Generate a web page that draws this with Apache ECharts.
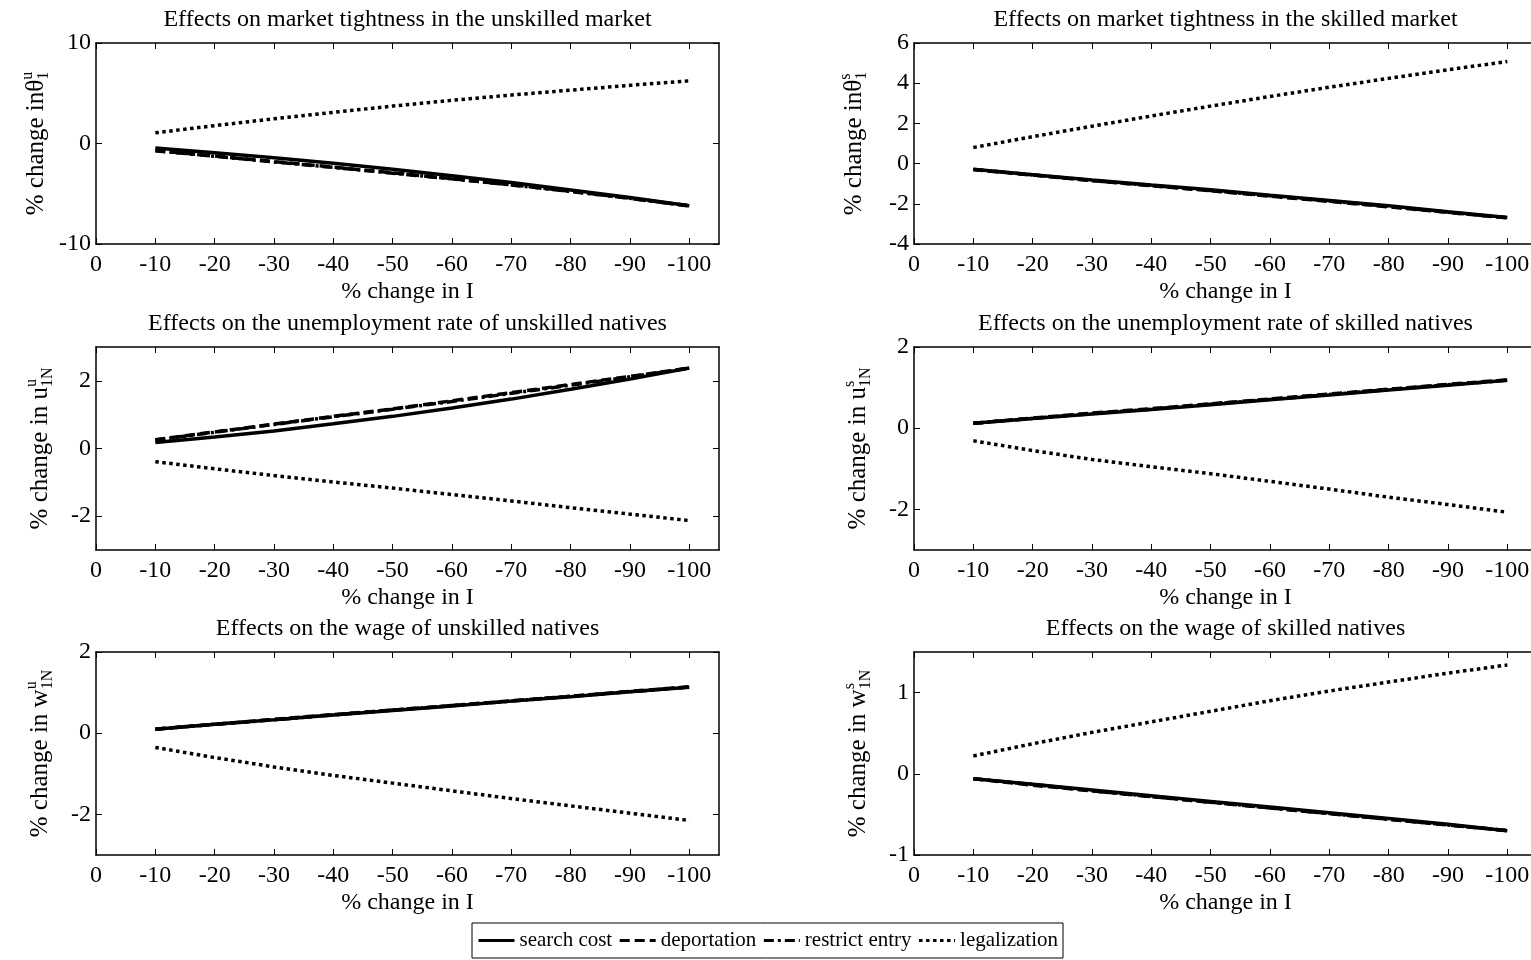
<!DOCTYPE html>
<html><head><meta charset="utf-8">
<script src="https://cdn.jsdelivr.net/npm/echarts@6/dist/echarts.min.js"></script>
<style>html,body{margin:0;padding:0;background:#fff}#c{width:1531px;height:960px}</style>
</head><body><div id="c"></div>
<script>
// ---------- data ----------
const xValues = [-10, -20, -30, -40, -50, -60, -70, -80, -90, -100];
const seriesNames = ['search cost', 'deportation', 'restrict entry', 'legalization'];
const xTickValues = [0, -10, -20, -30, -40, -50, -60, -70, -80, -90, -100];

// Panel 1: market tightness, unskilled
const p1SearchCost = [-0.45, -0.92, -1.42, -1.96, -2.56, -3.20, -3.88, -4.62, -5.38, -6.2];
const p1Deportation = [-0.70, -1.25, -1.80, -2.35, -2.92, -3.50, -4.10, -4.75, -5.45, -6.2];
const p1Restrict = [-0.72, -1.27, -1.83, -2.38, -2.95, -3.52, -4.12, -4.77, -5.46, -6.22];
const p1Legal = [1.06, 1.78, 2.46, 3.10, 3.72, 4.30, 4.82, 5.31, 5.79, 6.24];
// Panel 2: market tightness, skilled
const p2SearchCost = [-0.28, -0.55, -0.82, -1.07, -1.30, -1.57, -1.83, -2.10, -2.40, -2.68];
const p2Deportation = [-0.30, -0.57, -0.85, -1.10, -1.35, -1.62, -1.88, -2.15, -2.43, -2.70];
const p2Restrict = [-0.29, -0.56, -0.84, -1.09, -1.34, -1.60, -1.86, -2.13, -2.42, -2.69];
const p2Legal = [0.80, 1.34, 1.86, 2.37, 2.86, 3.34, 3.80, 4.24, 4.67, 5.08];
// Panel 3: unemployment rate, unskilled natives
const p3SearchCost = [0.18, 0.34, 0.52, 0.73, 0.95, 1.20, 1.46, 1.75, 2.05, 2.38];
const p3Deportation = [0.26, 0.49, 0.72, 0.95, 1.17, 1.41, 1.65, 1.89, 2.13, 2.38];
const p3Restrict = [0.25, 0.48, 0.71, 0.94, 1.16, 1.39, 1.63, 1.87, 2.12, 2.37];
const p3Legal = [-0.39, -0.60, -0.80, -0.99, -1.17, -1.36, -1.55, -1.75, -1.94, -2.13];
// Panel 4: unemployment rate, skilled natives
const p4SearchCost = [0.12, 0.24, 0.35, 0.46, 0.58, 0.70, 0.82, 0.94, 1.06, 1.18];
const p4Deportation = [0.12, 0.25, 0.37, 0.48, 0.60, 0.72, 0.84, 0.96, 1.08, 1.19];
const p4Restrict = [0.12, 0.24, 0.36, 0.47, 0.59, 0.71, 0.83, 0.95, 1.07, 1.18];
const p4Legal = [-0.31, -0.55, -0.77, -0.95, -1.12, -1.31, -1.50, -1.70, -1.88, -2.07];
// Panel 5: wage, unskilled natives
const p5SearchCost = [0.10, 0.22, 0.33, 0.45, 0.56, 0.67, 0.79, 0.90, 1.02, 1.13];
const p5Deportation = [0.10, 0.22, 0.34, 0.46, 0.57, 0.68, 0.80, 0.91, 1.03, 1.14];
const p5Restrict = [0.10, 0.22, 0.33, 0.45, 0.57, 0.68, 0.79, 0.91, 1.02, 1.14];
const p5Legal = [-0.35, -0.60, -0.83, -1.04, -1.23, -1.42, -1.61, -1.79, -1.97, -2.15];
// Panel 6: wage, skilled natives
const p6SearchCost = [-0.06, -0.13, -0.20, -0.27, -0.34, -0.41, -0.48, -0.55, -0.62, -0.70];
const p6Deportation = [-0.06, -0.14, -0.21, -0.28, -0.35, -0.42, -0.49, -0.56, -0.63, -0.70];
const p6Restrict = [-0.06, -0.13, -0.21, -0.28, -0.35, -0.42, -0.49, -0.56, -0.63, -0.70];
const p6Legal = [0.22, 0.37, 0.51, 0.64, 0.77, 0.90, 1.02, 1.13, 1.24, 1.34];

const titles = [
  'Effects on market tightness in the unskilled market',
  'Effects on market tightness in the skilled market',
  'Effects on the unemployment rate of unskilled natives',
  'Effects on the unemployment rate of skilled natives',
  'Effects on the wage of unskilled natives',
  'Effects on the wage of skilled natives'
];
const yNames = [
  '{t|% change in}{t|θ}{sup|u}{sub|1}',
  '{t|% change in}{t|θ}{sup|s}{sub|1}',
  '{t|% change in u}{sup|u}{sub|1N}',
  '{t|% change in u}{sup|s}{sub|1N}',
  '{t|% change in w}{sup|u}{sub|1N}',
  '{t|% change in w}{sup|s}{sub|1N}'
];
const xName = '% change in I';
// y axis ranges [min, max] and tick values
const yRanges = [[-10, 10], [-4, 6], [-3, 3], [-3, 2], [-3, 2], [-1, 1.5]];
const yTickValues = [[-10, 0, 10], [-4, -2, 0, 2, 4, 6], [-2, 0, 2], [-2, 0, 2], [-2, 0, 2], [-1, 0, 1]];
const panelData = [
  [p1SearchCost, p1Deportation, p1Restrict, p1Legal],
  [p2SearchCost, p2Deportation, p2Restrict, p2Legal],
  [p3SearchCost, p3Deportation, p3Restrict, p3Legal],
  [p4SearchCost, p4Deportation, p4Restrict, p4Legal],
  [p5SearchCost, p5Deportation, p5Restrict, p5Legal],
  [p6SearchCost, p6Deportation, p6Restrict, p6Legal]
];

// ---------- layout / style ----------
const FONT = "'Liberation Serif', 'Times New Roman', serif";
const GRID_W = 623;
const lefts = [96, 914];
const tops = [43, 347, 652];
const heights = [201, 203, 203];
const nameGaps = [44, 44, 40, 40, 40, 40];
const lineTypes = ['solid', [10, 5], [10, 4, 3, 4], [3.5, 3.5]];
const LW = 3.5;

const chart = echarts.init(document.getElementById('c'));

const grids = [], xAxes = [], yAxes = [], series = [], graphics = [];

for (let i = 0; i < 6; i++) {
  const col = i % 2, row = Math.floor(i / 2);
  const left = lefts[col], top = tops[row], height = heights[row];
  grids.push({ left, top, width: GRID_W, height, containLabel: false, outerBoundsMode: 'none', show: false });

  const axisLine = { show: true, onZero: false, lineStyle: { color: '#000', width: 1.5 } };
  const xTick = { show: true, inside: true, length: 6, customValues: xTickValues, lineStyle: { color: '#000', width: 1 } };
  const baseX = {
    type: 'value', gridIndex: i, inverse: true, min: -105, max: 0,
    axisLine, axisTick: xTick, splitLine: { show: false }
  };
  xAxes.push(Object.assign({}, baseX, {
    position: 'bottom',
    axisLabel: {
      show: true, color: '#000', fontFamily: FONT, fontSize: 24, margin: 9,
      customValues: xTickValues, hideOverlap: false,
      formatter: v => String(v)
    },
    name: xName, nameLocation: 'middle', nameGap: 36,
    nameTextStyle: { color: '#000', fontFamily: FONT, fontSize: 24 }
  }));
  xAxes.push(Object.assign({}, baseX, { position: 'top', axisLabel: { show: false } }));

  const [ymin, ymax] = yRanges[i];
  const yTick = { show: true, inside: true, length: 6, customValues: yTickValues[i], lineStyle: { color: '#000', width: 1 } };
  const baseY = {
    type: 'value', gridIndex: i, min: ymin, max: ymax,
    axisLine, axisTick: yTick, splitLine: { show: false }
  };
  yAxes.push(Object.assign({}, baseY, {
    position: 'left',
    axisLabel: {
      show: true, color: '#000', fontFamily: FONT, fontSize: 24, margin: 5,
      customValues: yTickValues[i], hideOverlap: false,
      formatter: v => String(v)
    },
    name: yNames[i], nameLocation: 'middle', nameRotate: 90, nameGap: nameGaps[i],
    nameTextStyle: {
      color: '#000',
      rich: {
        t: { fontFamily: FONT, fontSize: 25, lineHeight: 32, align: 'left', color: '#000' },
        sup: { fontFamily: FONT, fontSize: 16, lineHeight: 16, verticalAlign: 'top', align: 'left', width: 0, color: '#000' },
        sub: { fontFamily: FONT, fontSize: 16, lineHeight: 16, verticalAlign: 'bottom', align: 'left', color: '#000' }
      }
    }
  }));
  yAxes.push(Object.assign({}, baseY, { position: 'right', axisLabel: { show: false } }));

  panelData[i].forEach((arr, k) => {
    series.push({
      name: seriesNames[k], type: 'line',
      xAxisIndex: 2 * i, yAxisIndex: 2 * i,
      data: xValues.map((x, j) => [x, arr[j]]),
      symbol: 'none', showSymbol: false, smooth: false,
      lineStyle: { color: '#000', width: LW, type: lineTypes[k] },
      itemStyle: { color: '#000' },
      emphasis: { disabled: true }, silent: true
    });
  });

  graphics.push({
    type: 'text',
    x: left + GRID_W / 2, y: top - 23,
    style: { text: titles[i], fill: '#000', font: '24px ' + FONT, textAlign: 'center', textVerticalAlign: 'middle' }
  });
}

chart.setOption({
  animation: false,
  backgroundColor: '#fff',
  textStyle: { fontFamily: FONT, color: '#000' },
  grid: grids,
  xAxis: xAxes,
  yAxis: yAxes,
  series,
  graphic: graphics,
  legend: {
    data: seriesNames, left: 472, top: 923, orient: 'horizontal',
    itemWidth: 36, itemHeight: 14, itemGap: 6, padding: [7, 5],
    borderColor: '#000', borderWidth: 1, backgroundColor: '#fff',
    textStyle: { fontFamily: FONT, fontSize: 21, color: '#000' },
    lineStyle: { width: 3 },
    itemStyle: { opacity: 0, color: 'rgba(0,0,0,0)', borderWidth: 0 },
    selectedMode: false
  }
});
</script></body></html>
